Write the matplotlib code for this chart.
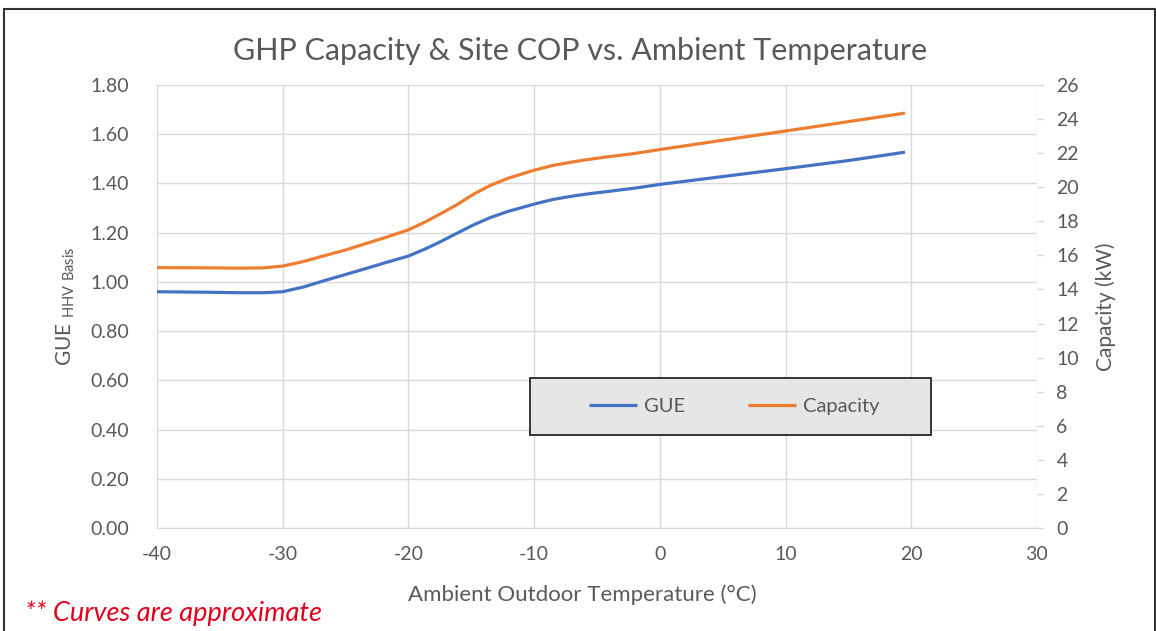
import matplotlib
matplotlib.use('Agg')
import matplotlib.pyplot as plt
from matplotlib.patches import Rectangle

# Values (Excel smoothed lines)
temp_c = [-40, -36, -33.4, -31.5, -30, -28.3, -26.7, -25, -23.4, -21.7,
          -20, -18.7, -17.5, -16.2, -14.8, -13.5, -12.1, -10, -8.5, -6.9,
          -5.5, -4.2, -2, 0, 5, 10, 15, 19.5]
gue = [0.960, 0.958, 0.956, 0.956, 0.960, 0.980, 1.005, 1.030, 1.054, 1.080,
       1.105, 1.133, 1.162, 1.196, 1.232, 1.261, 1.286, 1.316, 1.335, 1.349,
       1.359, 1.367, 1.381, 1.396, 1.428, 1.460, 1.493, 1.527]
capacity_kw = [15.28, 15.27, 15.25, 15.27, 15.37, 15.65, 15.98, 16.32, 16.69, 17.08,
               17.50, 17.95, 18.42, 18.95, 19.60, 20.10, 20.52, 21.00, 21.28, 21.49,
               21.65, 21.78, 21.98, 22.21, 22.76, 23.30, 23.85, 24.35]

x_ticks = [-40, -30, -20, -10, 0, 10, 20, 30]
gue_ticks = [0.0, 0.2, 0.4, 0.6, 0.8, 1.0, 1.2, 1.4, 1.6, 1.8]
cap_ticks = list(range(0, 27, 2))

plt.rcParams['font.family'] = ['Lato', 'DejaVu Sans']
plt.rcParams['axes.unicode_minus'] = False
txt = '#595959'
grid_c = '#d9d9d9'
blue = '#4472C4'
orange = '#ED7D31'

fig = plt.figure(figsize=(11.56, 6.31), dpi=100)
ax = fig.add_axes([0.1358, 0.1632, 0.7612, 0.7021])
ax2 = ax.twinx()

l1, = ax.plot(temp_c, gue, color=blue, lw=2.3, label='GUE',
              solid_capstyle='butt', solid_joinstyle='round')
l2, = ax2.plot(temp_c, capacity_kw, color=orange, lw=2.3, label='Capacity',
               solid_capstyle='butt', solid_joinstyle='round')

ax.set_xlim(-40, 30)
ax.set_ylim(0, 1.8)
ax2.set_ylim(0, 26)
ax.set_xticks(x_ticks)
ax.set_yticks(gue_ticks)
ax.set_yticklabels([f'{v:.2f}' for v in gue_ticks])
ax2.set_yticks(cap_ticks)

ax.grid(True, color=grid_c, lw=1)
ax.set_axisbelow(True)
for a in (ax, ax2):
    for s in a.spines.values():
        s.set_visible(False)
ax.spines['bottom'].set_visible(True)
ax.spines['bottom'].set_color(grid_c)

ax.tick_params(axis='x', length=0, pad=13, labelsize=14, labelcolor=txt)
ax.tick_params(axis='y', length=0, pad=20, labelsize=14, labelcolor=txt)
ax2.tick_params(axis='y', length=5, width=1, color=grid_c, pad=9, labelsize=14, labelcolor=txt)

ax.set_xlabel('Ambient Outdoor Temperature (°C)', fontsize=16, color=txt)
ax.xaxis.set_label_coords((582 - 157) / 880, -0.127)
ax.set_ylabel(r'GUE $_{\mathregular{HHV\ Basis}}$', fontsize=15, color=txt, labelpad=10)
ax2.set_ylabel('Capacity (kW)', fontsize=15, color=txt, labelpad=12)

fig.text(0.5017, 0.919, 'GHP Capacity & Site COP vs. Ambient Temperature',
         ha='center', va='center', fontsize=22, color=txt)

# legend box (grey fill, dark frame)
fig.patches.append(Rectangle((530 / 1156, 1 - 435 / 631), 401 / 1156, 57 / 631,
                             transform=fig.transFigure, facecolor='#e6e6e6',
                             edgecolor='#262626', lw=1.3, zorder=5))
leg = fig.legend(handles=[l1, l2], loc='center', bbox_to_anchor=(734 / 1156, 1 - 406.5 / 631),
                 ncol=2, frameon=False, fontsize=14.5, handlelength=2.4, handletextpad=0.35,
                 columnspacing=3.1)
for t in leg.get_texts():
    t.set_color(txt)
leg.set_zorder(6)

fig.text(25 / 1156, 1 - 613 / 631, '** Curves are approximate', ha='left', va='center',
         fontsize=19.5, style='italic', color='#e0001b')

# outer border of the chart area
fig.patches.append(Rectangle((4 / 1156, -0.02), 1151 / 1156, 1.02 - 9 / 631,
                             transform=fig.transFigure, fill=False,
                             edgecolor='#333333', lw=1.5))

fig.savefig('out.png', dpi=100)
plt.close(fig)
